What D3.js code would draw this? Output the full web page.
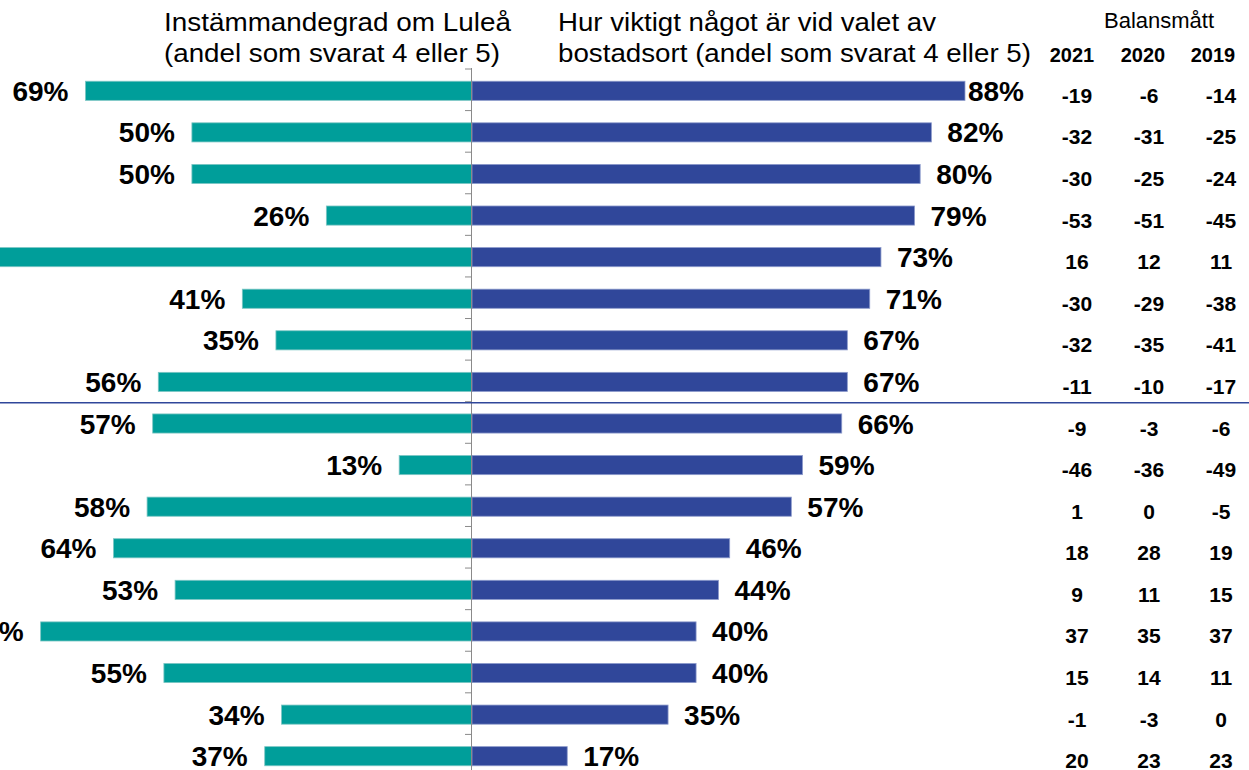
<!DOCTYPE html>
<html>
<head>
<meta charset="utf-8">
<script src="https://cdn.jsdelivr.net/npm/d3@7"></script>
<style>
  body { margin: 0; background: #fff; }
  svg { display: block; font-family: "Liberation Sans", Arial, sans-serif; }
</style>
</head>
<body>
<div id="content"></div>
<script>
const w = 1249
const h = 770

// data
const rows = d3.range(17)
const agreeVals = [69, 50, 50, 26, 89, 41, 35, 56, 57, 13, 58, 64, 53, 77, 55, 34, 37]
const importVals = [88, 82, 80, 79, 73, 71, 67, 67, 66, 59, 57, 46, 44, 40, 40, 35, 17]
const years = ["2021", "2020", "2019"]
const bal2021 = [-19, -32, -30, -53, 16, -30, -32, -11, -9, -46, 1, 18, 9, 37, 15, -1, 20]
const bal2020 = [-6, -31, -25, -51, 12, -29, -35, -10, -3, -36, 0, 28, 11, 35, 14, -3, 23]
const bal2019 = [-14, -25, -24, -45, 11, -38, -41, -17, -6, -49, -5, 19, 15, 37, 11, 0, 23]
const balance = [bal2021, bal2020, bal2019]

const leftTitle = ["Instämmandegrad om Luleå", "(andel som svarat 4 eller 5)"]
const rightTitle = ["Hur viktigt något är vid valet av", "bostadsort (andel som svarat 4 eller 5)"]

const teal = "#009e9a"
const blue = "#30479a"

let svg = d3.select("#content")
            .append("svg")
            .attr("width", w)
            .attr("height", h)

const cx = 472
let x = d3.scaleLinear()
  .domain([0, 100])
  .range([0, 560.2])

let y = d3.scaleBand()
  .domain(rows)
  .range([70, 777])
  .paddingInner(0.54)
  .paddingOuter(0.27)

const mid = (i) => y(i) + y.bandwidth() / 2

// left bars
svg.selectAll("rect.agree")
  .data(agreeVals)
  .enter()
  .append("rect")
    .attr("class", "agree")
    .attr("x", (d) => cx - x(d))
    .attr("y", (d, i) => y(i))
    .attr("width", (d) => x(d))
    .attr("height", y.bandwidth())
    .attr("fill", teal)
    .attr("stroke", "#7cc6c4")
    .attr("stroke-width", 0.8)

// right bars
svg.selectAll("rect.imp")
  .data(importVals)
  .enter()
  .append("rect")
    .attr("class", "imp")
    .attr("x", cx)
    .attr("y", (d, i) => y(i))
    .attr("width", (d) => x(d))
    .attr("height", y.bandwidth())
    .attr("fill", blue)
    .attr("stroke", "#8c9acb")
    .attr("stroke-width", 0.8)

// centre axis, ticks between categories
let axis = svg.append("g").attr("class", "axis")
axis.append("line")
  .attr("x1", cx - 0.5).attr("x2", cx - 0.5)
  .attr("y1", y.range()[0] - 2).attr("y2", h)
  .attr("stroke", "#8a8a8a").attr("stroke-width", 1)
axis.selectAll("line.tick")
  .data(d3.range(rows.length + 1))
  .enter()
  .append("line")
    .attr("class", "tick")
    .attr("x1", cx - 7).attr("x2", cx)
    .attr("y1", (k) => y.range()[0] - 1 + k * y.step())
    .attr("y2", (k) => y.range()[0] - 1 + k * y.step())
    .attr("stroke", "#8a8a8a")

// separator between row 8 and 9
const sepY = y(8) - y.step() * y.paddingInner() / 2
svg.append("line")
  .attr("x1", 0).attr("x2", w)
  .attr("y1", sepY).attr("y2", sepY)
  .attr("stroke", blue).attr("stroke-width", 1.6)

// value labels
svg.selectAll("text.agreeLab")
  .data(agreeVals)
  .enter()
  .append("text")
    .attr("class", "agreeLab")
    .attr("x", (d) => cx - x(d) - 17)
    .attr("y", (d, i) => mid(i) + 10)
    .attr("text-anchor", "end")
    .attr("font-size", 28)
    .attr("font-weight", "bold")
    .text((d) => d + "%")

const labelRight = 1024
svg.selectAll("text.impLab")
  .data(importVals)
  .enter()
  .append("text")
    .attr("class", "impLab")
    .attr("y", (d, i) => mid(i) + 10)
    .attr("font-size", 28)
    .attr("font-weight", "bold")
    .text((d) => d + "%")
    .attr("x", function(d) {
      let tw = this.getComputedTextLength()
      return Math.min(cx + x(d) + 16, labelRight - tw)
    })

// titles (the original text is a bit wider than Arial, stretch to fit)
function title(lines, x0, lens) {
  let t = svg.append("text").attr("font-size", 25)
  lines.forEach((s, k) => {
    t.append("tspan")
      .attr("x", x0)
      .attr("y", 31 + k * 31)
      .attr("textLength", lens[k])
      .attr("lengthAdjust", "spacingAndGlyphs")
      .text(s)
  })
}
title(leftTitle, 164, [347, 336])
title(rightTitle, 558, [378, 473])

// balance table
const yearX = [1072, 1143, 1213]
const valX = [1077, 1149, 1221]

svg.append("text")
  .attr("x", 1159).attr("y", 28)
  .attr("text-anchor", "middle")
  .attr("font-size", 22)
  .text("Balansmått")

svg.selectAll("text.year")
  .data(years)
  .enter()
  .append("text")
    .attr("class", "year")
    .attr("x", (d, j) => yearX[j])
    .attr("y", 62)
    .attr("text-anchor", "middle")
    .attr("font-size", 20)
    .attr("font-weight", "bold")
    .text((d) => d)

balance.forEach((col, j) => {
  svg.selectAll("text.bal" + j)
    .data(col)
    .enter()
    .append("text")
      .attr("class", "bal" + j)
      .attr("x", valX[j])
      .attr("y", (d, i) => mid(i) + 12)
      .attr("text-anchor", "middle")
      .attr("font-size", 21)
      .attr("font-weight", "bold")
      .text((d) => d)
})
</script>
</body>
</html>
